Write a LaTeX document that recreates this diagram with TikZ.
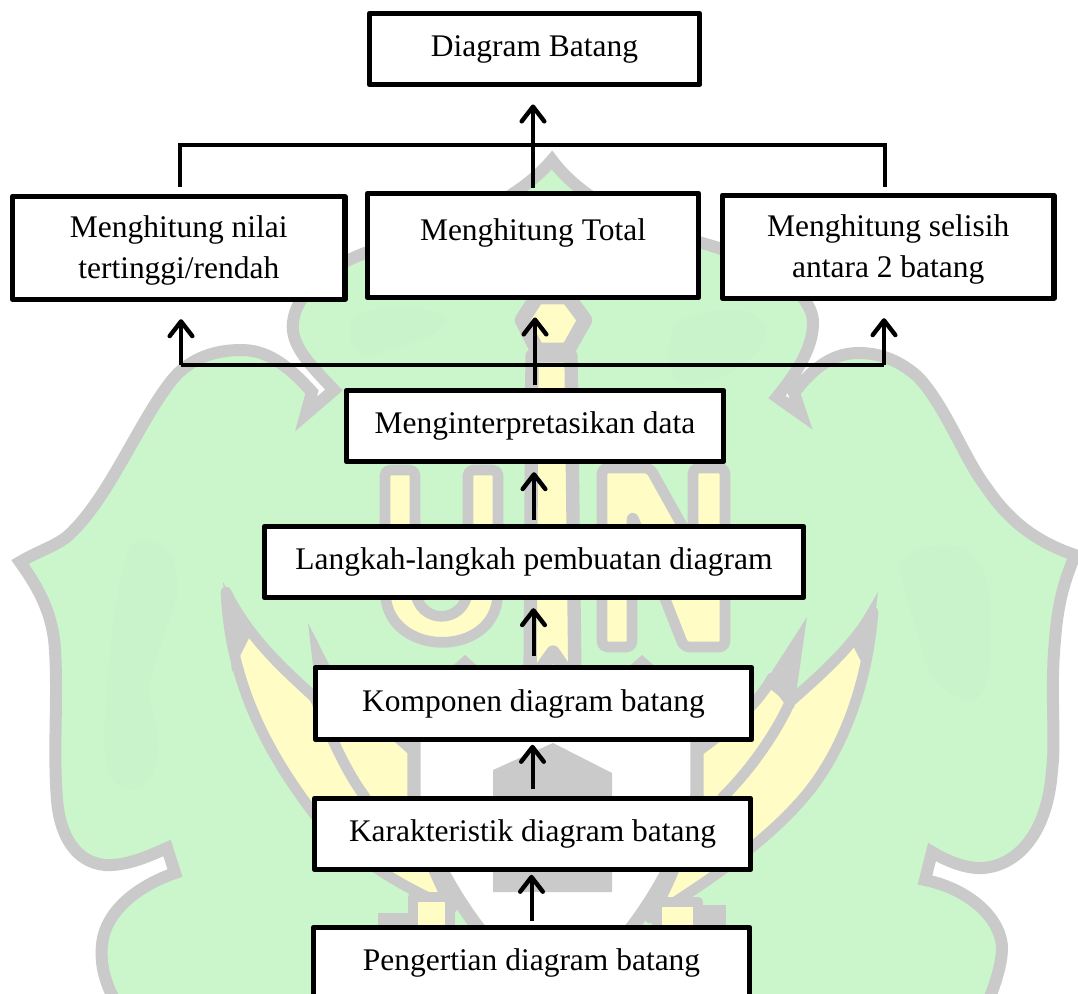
\documentclass[tikz,border=0pt]{standalone}
\usepackage{fontspec}
\setmainfont{Liberation Serif}
\usetikzlibrary{arrows.meta}
\definecolor{wgreen}{HTML}{CBF6CB}
\definecolor{wgreenb}{HTML}{C9F3CA}
\definecolor{wgray}{HTML}{CACACA}
\definecolor{wyellow}{HTML}{FFFCC6}
\tikzset{
  boxnode/.style={draw=black,fill=white,line width=4pt,outer sep=0pt,inner sep=0pt,align=center,
    font=\fontsize{23.6}{30.7}\selectfont,line join=round},
  conn/.style={draw=black,line width=2.6pt},
  arr/.style={draw=black,line width=3pt,-{Straight Barb[length=11pt,width=17pt,round,line width=3.3pt]}},
  emblem/.style={fill=wgreen,draw=wgray,line width=9pt,line join=miter},
  blade/.style={fill=wyellow,draw=wgray,line width=8pt,line join=round},
  divider/.style={draw=wgray,line width=8pt,line cap=round},
  spike/.style={fill=wgray},
}
\begin{document}
\begin{tikzpicture}[x=0.75pt,y=-0.75pt]
\useasboundingbox (0,0) rectangle (1078,994);
\clip (0,0) rectangle (1078,994);
\fill[white] (0,0) rectangle (1078,994);
% watermark emblem
\path[emblem] (20,562)
  .. controls (40,550) and (60,545) .. (72,532)
  .. controls (110,495) and (140,420) .. (172,380)
  .. controls (190,358) and (215,350) .. (241,350)
  .. controls (265,350) and (285,362) .. (312,392)
  -- (306,414) -- (334,390)
  .. controls (310,365) and (290,345) .. (293,322)
  .. controls (296,295) and (325,268) .. (365,253)
  .. controls (420,235) and (505,215) .. (552,160)
  .. controls (585,205) and (650,230) .. (702,243)
  .. controls (770,262) and (815,295) .. (813,325)
  .. controls (812,350) and (795,375) .. (777,397)
  -- (801,414) -- (794,393)
  .. controls (815,365) and (835,353) .. (859,353)
  .. controls (885,353) and (905,365) .. (918,377)
  .. controls (945,405) and (965,460) .. (986,487)
  .. controls (1005,515) and (1030,540) .. (1075,555)
  .. controls (1065,580) and (1058,600) .. (1055,640)
  .. controls (1050,690) and (1056,740) .. (1052,770)
  .. controls (1048,830) and (1020,865) .. (983,868)
  .. controls (965,869) and (945,860) .. (932,852)
  -- (925,880)
  .. controls (965,888) and (1000,915) .. (1002,947)
  .. controls (1002,965) and (995,985) .. (985,1010)
  -- (120,1010)
  .. controls (105,985) and (100,965) .. (102,945)
  .. controls (105,910) and (140,885) .. (175,873)
  -- (167,848)
  .. controls (145,858) and (125,866) .. (105,865)
  .. controls (75,862) and (60,835) .. (57,800)
  .. controls (53,750) and (58,700) .. (55,650)
  .. controls (53,615) and (40,590) .. (20,562) -- cycle;
% faint blotches
\fill[wgreenb] (130,545) .. controls (150,535) and (178,540) .. (178,590) .. controls (170,630) and (145,670) .. (150,700) .. controls (165,750) and (160,785) .. (130,790) .. controls (105,785) and (103,760) .. (105,720) .. controls (108,660) and (115,590) .. (130,545) -- cycle;
\fill[wgreenb] (900,560) .. controls (930,540) and (985,530) .. (990,600) .. controls (992,650) and (992,690) .. (975,700) .. controls (940,700) and (925,670) .. (920,640) .. controls (912,610) and (900,590) .. (900,560) -- cycle;
\fill[wgreenb] (355,315) .. controls (380,305) and (445,305) .. (447,320) .. controls (440,340) and (395,345) .. (375,355) .. controls (350,360) and (345,330) .. (355,315) -- cycle;
\fill[wgreenb] (680,320) .. controls (720,305) and (760,305) .. (765,330) .. controls (765,360) and (720,385) .. (680,385) .. controls (665,370) and (665,335) .. (680,320) -- cycle;
% blades, right
\path[blade] (873,612) .. controls (868,680) and (845,745) .. (810,790) .. controls (770,840) and (710,880) .. (650,918)
   .. controls (672,880) and (688,840) .. (692,800) -- (697,752)
   .. controls (735,725) and (760,700) .. (772,678) -- (790,702)
   .. controls (820,675) and (850,650) .. (873,612) -- cycle;
\draw[divider] (790,702) .. controls (775,735) and (750,770) .. (723,797) -- (700,850);
\fill[spike] (764,684) -- (807,617) -- (794,708) -- cycle;
\fill[spike] (850,640) -- (878,592) -- (868,675) -- cycle;
% blades, left
\path[blade] (226,592) .. controls (230,680) and (265,750) .. (315,815) .. controls (345,850) and (395,885) .. (452,908)
   .. controls (432,870) and (418,835) .. (414,800) -- (414,752)
   .. controls (385,725) and (350,700) .. (331,678) -- (315,698)
   .. controls (285,670) and (250,640) .. (226,592) -- cycle;
\draw[divider] (315,698) .. controls (330,735) and (345,770) .. (365,797) -- (395,860);
\fill[spike] (340,686) -- (308,623) -- (318,708) -- cycle;
\fill[spike] (250,636) -- (223,582) -- (232,672) -- cycle;
% small peaks above the shield
\fill[wgray] (448,670) -- (465,655) -- (482,670) -- cycle;
\fill[wgray] (625,670) -- (642,655) -- (659,670) -- cycle;
% lower stubs
\fill[wgray] (378,913) rectangle (420,960);
\fill[wgray] (692,905) rectangle (726,960);
\path[blade] (413,897) rectangle (450,960);
\path[blade] (657,902) rectangle (698,960);
% white shield
\path[fill=white,draw=wgray,line width=10pt,line join=round] (414,680) -- (697,680) -- (697,795)
   .. controls (690,830) and (665,885) .. (630,930) -- (630,960) -- (480,960) -- (480,930)
   .. controls (445,885) and (420,830) .. (414,800) -- cycle;
% gray house
\fill[wgray] (553,743) -- (612,773) -- (612,892) -- (493,892) -- (493,770) -- cycle;
% U
\path[blade,rounded corners=4pt] (385,470) -- (415,470) -- (415,585) .. controls (418,625) and (465,625) .. (468,585)
   -- (468,470) -- (498,470) -- (498,590) .. controls (495,658) and (390,658) .. (385,590) -- cycle;
% N
\path[blade,rounded corners=4pt] (602,468) -- (650,468) -- (693,545) -- (693,468) -- (725,468) -- (725,647)
   -- (684,647) -- (632,515) -- (632,647) -- (602,647) -- cycle;
% I shaft with knob
\path[blade,line width=10pt] (532,356) -- (571,356) -- (575,684) -- (553,652) -- (530,684) -- cycle;
\path[blade,line width=11pt] (522,320) -- (537,297) -- (568,297) -- (585,320) -- (568,350) -- (537,350) -- cycle;
% nodes
\node[boxnode,minimum width=330*0.75pt,minimum height=71*0.75pt] (dbatang) at (534.5,49) {Diagram Batang};
\node[boxnode,minimum width=332.6*0.75pt,minimum height=102.7*0.75pt] (nilai) at (178.8,247.9) {\rule{0pt}{20.6pt}Menghitung nilai\\tertinggi/rendah};
\node[boxnode,minimum width=331*0.75pt,minimum height=104*0.75pt] (total) at (533,245.5) {\rule{0pt}{23.6pt}Menghitung Total\\\mbox{}};
\node[boxnode,minimum width=331.5*0.75pt,minimum height=103*0.75pt] (selisih) at (888.2,246.7) {\rule{0pt}{20.6pt}Menghitung selisih\\antara 2 batang};
\node[boxnode,minimum width=377*0.75pt,minimum height=71*0.75pt] (interp) at (535,426) {Menginterpretasikan data};
\node[boxnode,minimum width=539*0.75pt,minimum height=71*0.75pt] (langkah) at (534,562) {Langkah-langkah pembuatan diagram};
\node[boxnode,minimum width=436*0.75pt,minimum height=72*0.75pt] (komp) at (533.5,703.5) {Komponen diagram batang};
\node[boxnode,minimum width=436*0.75pt,minimum height=71*0.75pt] (karak) at (532.5,834) {Karakteristik diagram batang};
\node[boxnode,minimum width=436*0.75pt,minimum height=71*0.75pt] (peng) at (531.5,963) {Pengertian diagram batang};
% free ends
\coordinate (topL) at (180,145);
\coordinate (topR) at (885,145);
\coordinate (busL) at (181,365);
\coordinate (busR) at (884,365);
% connectors
\draw[conn,shorten <=7pt,shorten >=6pt] (topL |- nilai.north) -- (topL) -- (topR) -- (topR |- selisih.north);
\draw[conn,line width=3pt] (busL) -- (busR);
\draw[arr,shorten <=4pt,shorten >=15pt] (total.north) -- (total.north |- dbatang.south);
\draw[arr,shorten >=15pt] (busL) -- (busL |- nilai.south);
\draw[arr,shorten <=4pt,shorten >=15pt] (interp.north) -- (interp.north |- total.south);
\draw[arr,shorten >=15pt] (busR) -- (busR |- selisih.south);
\draw[arr,shorten <=5pt,shorten >=8pt] (langkah.north) -- (langkah.north |- interp.south);
\draw[arr,shorten <=9pt,shorten >=8pt] (komp.north) -- (komp.north |- langkah.south);
\draw[arr,shorten <=7pt,shorten >=4pt] (karak.north) -- (karak.north |- komp.south);
\draw[arr,shorten <=5pt,shorten >=4pt] (peng.north) -- (peng.north |- karak.south);
\end{tikzpicture}
\end{document}
